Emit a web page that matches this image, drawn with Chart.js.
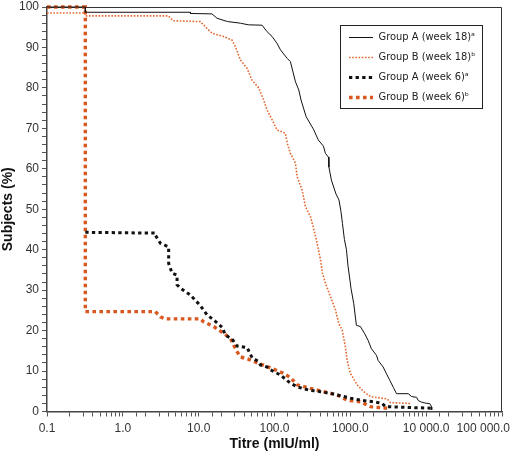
<!DOCTYPE html>
<html><head><meta charset="utf-8">
<script src="https://cdn.jsdelivr.net/npm/chart.js@4/dist/chart.umd.min.js"></script>
<style>html,body{margin:0;padding:0;background:#fff}#wrap{width:510px;height:454px;position:relative}</style>
</head><body><div id="wrap"><canvas id="c"></canvas></div>
<script>
// ---- data ----
const seriesLabels = ['Group A (week 18)\u1d43', 'Group B (week 18)\u1d47', 'Group A (week 6)\u1d43', 'Group B (week 6)\u1d47'];

const groupA18Titre = [0.1,0.32,0.32,7.8,7.8,15,17.5,24,35.5,45,68.6,79.8,93,108,120,147,162,189,209,224,261,326,379,442,470,514,522,563,646,708,752,787,836,889,929,988,1019,1109,1202,1358,1549,1714,1897,2210,2328,2710,2999,3319,3681,4066,5808,6427,7482,7880,8715,9640,11220,11830,11830];
const groupA18Pct   = [100,100,98.7,98.7,98.4,98.3,97.2,96.4,96.0,95.6,95.5,93.9,92.7,91.0,89.4,87.3,86.5,81.5,79.5,77.0,72.9,69.8,67.1,65.6,63.8,62.9,60.4,57.2,53.8,52.3,49.5,46.5,42.5,40.0,36.2,32.5,30.5,26.7,21.3,21.0,19.2,17.6,15.5,13.9,12.6,11.0,9.3,7.7,6.0,4.4,4.4,3.7,3.5,2.7,2.3,2.1,1.9,1.1,0.4];

const groupB18Titre = [0.1,0.32,0.32,3.98,4.6,10.5,12.9,15,21.4,27.6,30.5,35.5,43.5,50.6,61.9,72.1,79.9,93,108,139,147,162,189,199,231,256,298,326,365,404,429,470,547,637,703,780,861,907,1003,1230,1503,1842,3055,3381,5890,6300];
const groupB18Pct   = [98.5,98.5,97.8,97.8,96.6,96.4,94.7,93.5,92.7,91.8,90.2,86.9,84.8,81.9,80.0,77.0,74.5,72.1,69.6,68.8,66.4,63.8,61.4,58.0,54.8,50.6,48.2,45.4,41.6,37.5,34.2,31.7,28.4,25.1,21.8,20.1,16.0,12.7,9.4,6.6,4.9,3.7,3.1,2.2,2.0,1.8];

const groupA6Titre = [0.32,2.68,2.68,3.13,4.02,4.02,4.46,5.19,5.19,5.74,7.77,10.5,12.9,16.6,20.4,22.5,27.6,32.1,43.5,50.6,61.9,65.3,79.8,88.5,120,162,199,283,404,604,780,1003,1358,2037,2630,2904,12000];
const groupA6Pct   = [44.3,44.1,43.6,41.6,40.7,36.6,34.2,33.7,31.3,30.5,28.8,26.2,23.9,22.3,20.8,18.9,17.9,16.2,15.8,13.3,12.3,11.5,11.0,10.3,9.0,7.0,6.1,5.3,4.9,4.3,3.8,3.3,2.8,2.4,2.0,1.2,0.8];

const groupB6Titre = [0.1,0.32,0.32,2.68,3.13,3.6,10.5,11.6,15.8,21.4,26.2,29,32.1,35.5,45.7,61.9,79.8,126,162,199,298,446,670,907,1358,1842,3055];
const groupB6Pct   = [100,100,24.7,24.7,23.4,22.9,22.9,22.2,21.0,19.3,18.1,16.4,14.8,13.5,12.9,11.9,11.1,9.6,8.4,6.6,5.7,4.9,4.1,2.8,2.4,1.2,0.8];

const xDecadeValues = [0.1, 1, 10, 100, 1000, 10000, 100000];
const xTickLabels   = ['0.1', '1.0', '10.0', '100.0', '1000.0', '10 000.0', '100 000.0'];
const yLabelStep = 10;

// ---- build ----
const pts = (xs, ys) => xs.map((x, i) => ({x, y: ys[i]}));
const FONT = "'Liberation Sans',Arial,sans-serif";
const LEGEND_FONT = "'DejaVu Sans Condensed','Liberation Sans',sans-serif";
const ORANGE_THIN = '#e3682f';
const ORANGE = '#d9581f';

const datasets = [
  {label: seriesLabels[0], data: pts(groupA18Titre, groupA18Pct), borderColor: '#111', borderWidth: 1, borderDash: [], order: 1},
  {label: seriesLabels[1], data: pts(groupB18Titre, groupB18Pct), borderColor: ORANGE_THIN, borderWidth: 1.6, borderDash: [1.6, 1.6], order: 2},
  {label: seriesLabels[2], data: pts(groupA6Titre, groupA6Pct), borderColor: '#111', borderWidth: 3, borderDash: [3.3, 3.3], order: 3},
  {label: seriesLabels[3], data: pts(groupB6Titre, groupB6Pct), borderColor: ORANGE, borderWidth: 3.4, borderDash: [3.6, 3.4], order: 4},
].map(d => Object.assign(d, {showLine: true, pointRadius: 0, pointHoverRadius: 0, tension: 0, fill: false, clip: false, backgroundColor: d.borderColor}));

const framePlugin = {
  id: 'frame',
  afterLayout(chart) {
    const lg = chart.legend, ca = chart.chartArea;
    if (!lg) return;
    lg.left = ca.right - 162; lg.right = lg.left + 142;
    lg.top = ca.top + 16; lg.bottom = ca.bottom;
  },
  beforeDatasetsDraw(chart) {
    const {ctx, chartArea: a} = chart;
    ctx.save();
    ctx.strokeStyle = '#333'; ctx.lineWidth = 1;
    ctx.beginPath();
    ctx.moveTo(a.left, a.top + 0.5); ctx.lineTo(a.right - 0.5, a.top + 0.5); ctx.lineTo(a.right - 0.5, a.bottom);
    ctx.stroke();
    ctx.restore();
  },
  beforeDraw(chart) {
    const sx = chart.scales.x;
    const items = sx.getLabelItems();
    const last = items.find(it => it.label === xTickLabels[xTickLabels.length - 1]);
    if (last) { last.options.textAlign = 'right'; last.options.translation[0] = chart.width; }
  },
  afterDraw(chart) {
    const lg = chart.legend; const ctx = chart.ctx;
    ctx.save();
    ctx.strokeStyle = '#222'; ctx.lineWidth = 1;
    ctx.strokeRect(Math.round(lg.left) + 0.5, Math.round(lg.top) + 2.5, 142, 83);
    ctx.restore();
  }
};

new Chart(document.getElementById('c'), {
  type: 'scatter',
  data: {datasets},
  plugins: [framePlugin],
  options: {
    responsive: true, maintainAspectRatio: false, animation: false,
    layout: {padding: {top: 7, right: 8, left: 0, bottom: 0}},
    plugins: {
      tooltip: {enabled: false},
      legend: {
        position: 'chartArea', align: 'start',
        labels: {
          font: {family: LEGEND_FONT, size: 11}, color: '#222', padding: 9,
          usePointStyle: true, pointStyle: 'line', pointStyleWidth: 24, boxHeight: 11,
          generateLabels: (chart) => chart.data.datasets.map((d, i) => ({
            text: d.label, fontColor: '#222', strokeStyle: d.borderColor, fillStyle: d.borderColor,
            lineWidth: d.borderWidth, lineDash: d.borderDash, lineDashOffset: 0, lineCap: 'butt',
            pointStyle: 'line', hidden: false, datasetIndex: i
          }))
        }
      }
    },
    scales: {
      x: {
        type: 'logarithmic', min: 0.1, max: 100000,
        title: {display: true, text: 'Titre (mIU/ml)', font: {family: FONT, size: 14, weight: 'bold'}, color: '#111', padding: {top: 0, bottom: 1}},
        ticks: {
          autoSkip: false, maxRotation: 0, minRotation: 0, padding: 5, color: '#333',
          font: {family: FONT, size: 12},
          callback: (v) => { const i = xDecadeValues.findIndex(d => Math.abs(d - v) / d < 1e-6); return i >= 0 ? xTickLabels[i] : ''; }
        },
        grid: {display: true, drawOnChartArea: false, drawTicks: true, tickLength: 5, color: '#555', lineWidth: 1},
        border: {display: true, color: '#444', width: 1.5},
        afterFit: (s) => { s.paddingRight = 0; s.paddingLeft = 0; s.height = 42.5; }
      },
      y: {
        min: 0, max: 100,
        title: {display: true, text: 'Subjects (%)', font: {family: FONT, size: 14, weight: 'bold'}, color: '#111', padding: {top: 0, bottom: 0}},
        ticks: {
          stepSize: 2, autoSkip: false, padding: 3, color: '#333',
          font: {family: FONT, size: 12},
          callback: (v) => (v % yLabelStep === 0 ? String(v) : '')
        },
        grid: {display: true, drawOnChartArea: false, drawTicks: true, tickLength: 5, color: '#555', lineWidth: 1},
        border: {display: true, color: '#444', width: 1.5},
        afterFit: (s) => { s.width = 47; s.paddingTop = 0; s.paddingBottom = 0; }
      }
    }
  }
});
</script></body></html>
